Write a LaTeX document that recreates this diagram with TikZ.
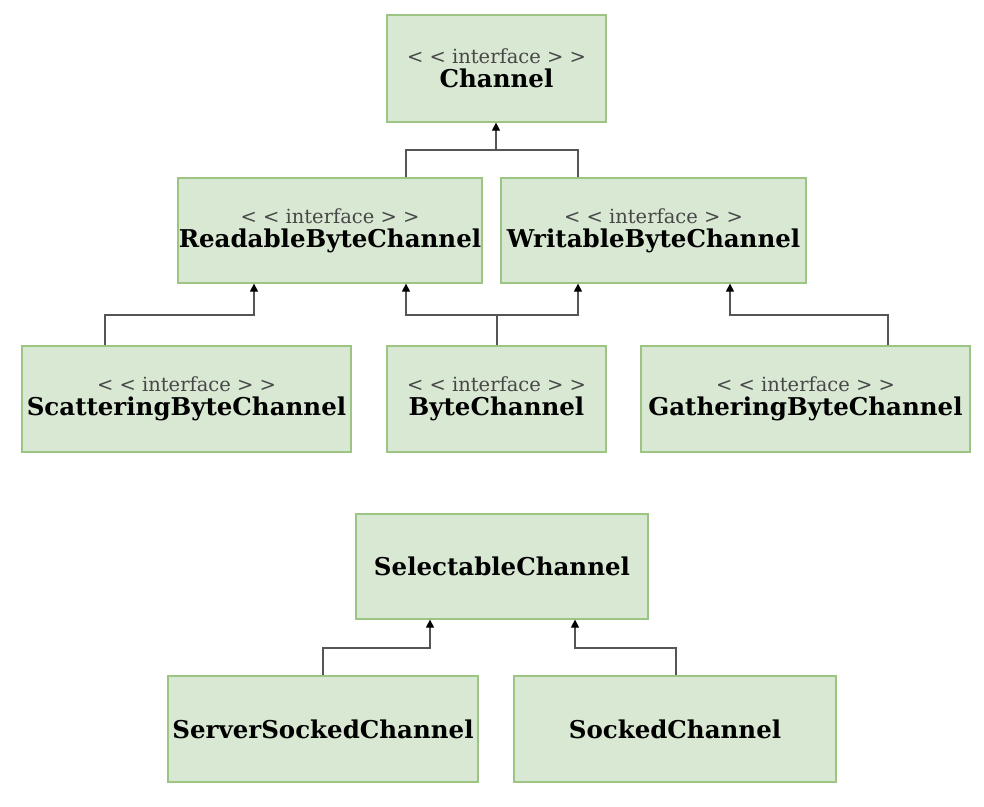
\documentclass[tikz,border=0pt]{standalone}
\usepackage{fontspec}
\setmainfont{DejaVu Serif}
\usetikzlibrary{arrows.meta,positioning}
\definecolor{boxfill}{HTML}{D9E8D3}
\definecolor{boxline}{HTML}{9CC583}
\definecolor{conn}{HTML}{555555}
\begin{document}
\begin{tikzpicture}[x=1pt,y=-1pt,
  cls/.style={draw=boxline,fill=boxfill,line width=1.2pt,inner sep=0pt,align=center,font=\fontsize{24.5}{24}\selectfont},
  link/.style={draw=conn,line width=1.2pt,-{Triangle[length=8pt,width=8pt,color=black]}},
  plain/.style={draw=conn,line width=1.2pt}]
\useasboundingbox (0,0) rectangle (984,806);
\newcommand{\iface}{{\color{black!72}\fontsize{19.5}{25}\selectfont < < interface > >}\\}
\node[cls,minimum width=219,minimum height=107] (ch) at (496.5,68.5) {\iface\textbf{Channel}};
\node[cls,minimum width=304,minimum height=105] (rb) at (330,230.5) {\iface\textbf{ReadableByteChannel}};
\node[cls,minimum width=305,minimum height=105] (wb) at (653.5,230.5) {\iface\textbf{WritableByteChannel}};
\node[cls,minimum width=329,minimum height=106] (sb) at (186.5,399) {\iface\textbf{ScatteringByteChannel}};
\node[cls,minimum width=219,minimum height=106] (bc) at (496.5,399) {\iface\textbf{ByteChannel}};
\node[cls,minimum width=329,minimum height=106] (gb) at (805.5,399) {\iface\textbf{GatheringByteChannel}};
\node[cls,minimum width=292,minimum height=105] (sc) at (502,566.5) {\textbf{SelectableChannel}};
\node[cls,minimum width=310,minimum height=106] (ss) at (323,729) {\textbf{ServerSockedChannel}};
\node[cls,minimum width=322,minimum height=106] (so) at (675,729) {\textbf{SockedChannel}};
% connectors
\coordinate (j1) at (496,150);
\draw[link] (rb.north -| 406,0) |- (j1) -- (j1 |- ch.south);
\draw[plain] (wb.north -| 578,0) |- (j1);
\draw[link] (sb.north -| 105,0) |- (254,315) -- (rb.south -| 254,0);
\draw[link] (bc.north -| 497,0) |- (406,315) -- (rb.south -| 406,0);
\draw[link] (bc.north -| 497,0) |- (578,315) -- (wb.south -| 578,0);
\draw[link] (gb.north -| 888,0) |- (730,315) -- (wb.south -| 730,0);
\draw[link] (ss.north -| 323,0) |- (430,648) -- (sc.south -| 430,0);
\draw[link] (so.north -| 676,0) |- (575,648) -- (sc.south -| 575,0);
\end{tikzpicture}
\end{document}
